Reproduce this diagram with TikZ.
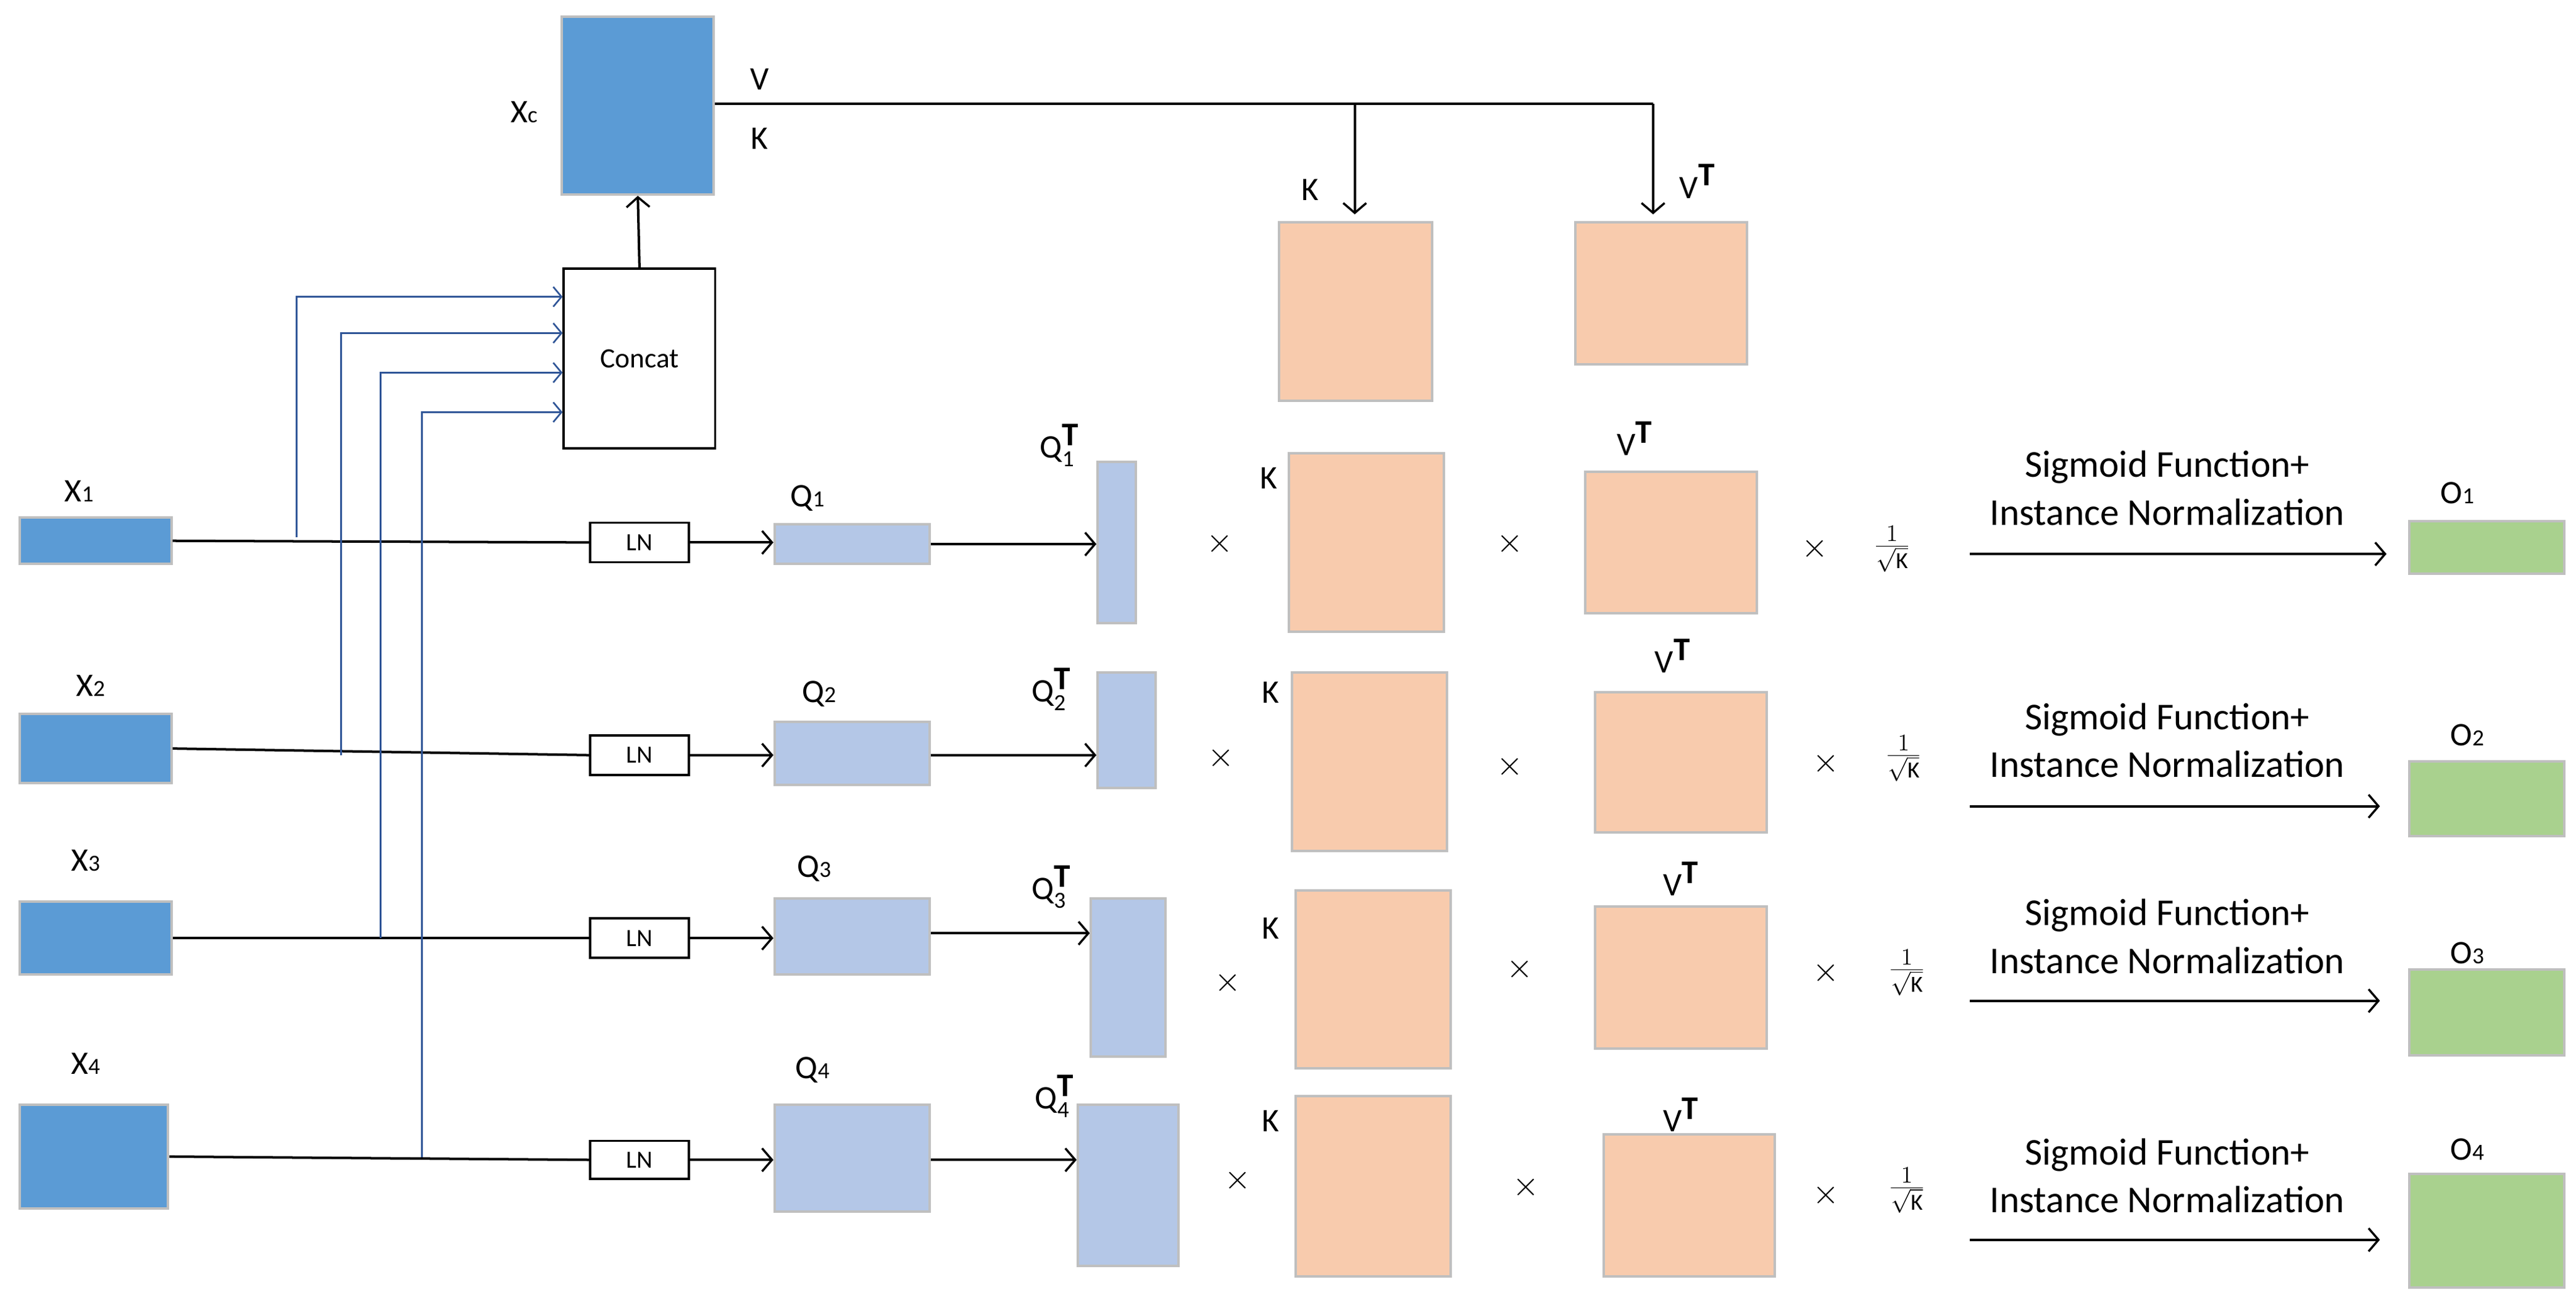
\documentclass[tikz,border=0pt]{standalone}
\usepackage{fontspec}
\setmainfont{Carlito}
\usetikzlibrary{arrows.meta}
\definecolor{xblue}{HTML}{5B9BD5}
\definecolor{qblue}{HTML}{B4C7E7}
\definecolor{peach}{HTML}{F8CBAD}
\definecolor{ogreen}{HTML}{A9D18E}
\definecolor{edge}{HTML}{BFBFBF}
\definecolor{lineblue}{HTML}{2F5597}
\newcommand{\bx}[6]{\node[#6,minimum width={(#4-#2)*1pt},minimum height={(#5-#3)*1pt}] (#1) at ({(#2+#4)/2},{(#3+#5)/2}) {};}
\begin{document}
\begin{tikzpicture}[x=1pt,y=-1pt,
  box/.style={draw=edge,line width=1.5pt,inner sep=0pt},
  X/.style={box,fill=xblue},
  Q/.style={box,fill=qblue},
  P/.style={box,fill=peach},
  G/.style={box,fill=ogreen},
  wb/.style={draw=black,line width=1.3pt,fill=white,inner sep=0pt},
  lab/.style={font=\fontsize{20}{24}\selectfont,inner sep=0pt},
  txt/.style={font=\fontsize{23}{29}\selectfont,align=center,inner sep=0pt},
  arr/.style={line width=1.5pt,-{Straight Barb[length=6pt,width=14pt,line width=1.3pt]}},
  ln/.style={line width=1.5pt},
  bl/.style={draw=lineblue,line width=1pt},
  bla/.style={bl,-{Straight Barb[length=5pt,width=12pt,line width=1pt]}}]
\useasboundingbox (0,0) rectangle (1563,795);
\newcommand{\sub}[1]{{\fontsize{14}{16}\selectfont #1}}
\newcommand{\qt}[1]{Q$^{\mbox{\textbf{T}}}_{\mbox{\sub{#1}}}$}
\newcommand{\vt}{V$^{\mbox{\textbf{T}}}$}
% top
\bx{xc}{341}{10}{433}{118}{X}
\node[lab] at (318,68) {X\sub{c}};
\node[lab] at (461,48) {V};
\node[lab] at (461,84) {K};
\bx{cc}{342}{163}{434}{272}{wb}
\node[font=\fontsize{17}{20}\selectfont] at (cc) {Concat};
\draw[arr] (cc.north) -- (xc.south);
\bx{kt}{776}{135}{869}{243}{P}
\bx{vt}{956}{135}{1060}{221}{P}
\coordinate (t1) at (822,63);
\coordinate (t2) at (1003,63);
\draw[ln] (xc.east |- t1) -- (t2);
\draw[arr] (t1) -- (822,130);
\draw[arr] (t2) -- (1003,130);
\node[lab] at (795,115) {K};
\node[lab] at (1030,110) {\vt};
% ---------- row 1
\bx{x1}{12}{314}{104}{342}{X} \node[lab] at (48,298) {X\sub{1}};
\bx{ln1}{358}{317}{418}{341}{wb} \node[font=\fontsize{15}{18}\selectfont] at (ln1) {LN};
\bx{q1}{470}{318}{564}{342}{Q} \node[lab] at (490,302) {Q\sub{1}};
\bx{qt1}{666}{280}{689}{378}{Q} \node[lab] at (643,270) {\qt{1}};
\bx{k1}{782}{275}{876}{383}{P} \node[lab] at (770,290) {K};
\bx{v1}{962}{286}{1066}{372}{P} \node[lab] at (992,266) {\vt};
\bx{o1}{1462}{316}{1556}{348}{G} \node[lab] at (1491,299) {O\sub{1}};
\node[lab] at (740,330) {$\times$}; \node[lab] at (916,330) {$\times$}; \node[lab] at (1101,333) {$\times$};
\node[lab] at (1148,333) {$\frac{1}{\sqrt{\mathrm{K}}}$};
\node[txt] at (1315,296) {Sigmoid Function+\\Instance Normalization};
\coordinate (a1) at (1195,336); \coordinate (b1) at (1448,336);
\draw[arr] (a1) -- (b1);
\draw[ln] (x1.east) -- (ln1.west);
\draw[arr] (ln1.east) -- (q1.west |- ln1.east);
\draw[arr] (q1.east) -- (qt1.west |- q1.east);
% ---------- row 2
\bx{x2}{12}{433}{104}{475}{X} \node[lab] at (55,416) {X\sub{2}};
\bx{ln2}{358}{446}{418}{470}{wb} \node[font=\fontsize{15}{18}\selectfont] at (ln2) {LN};
\bx{q2}{470}{438}{564}{476}{Q} \node[lab] at (497,421) {Q\sub{2}};
\bx{qt2}{666}{408}{701}{478}{Q} \node[lab] at (638,418) {\qt{2}};
\bx{k2}{784}{408}{878}{516}{P} \node[lab] at (771,420) {K};
\bx{v2}{968}{420}{1072}{505}{P} \node[lab] at (1015,398) {\vt};
\bx{o2}{1462}{462}{1556}{507}{G} \node[lab] at (1497,446) {O\sub{2}};
\node[lab] at (741,460) {$\times$}; \node[lab] at (916,465) {$\times$}; \node[lab] at (1108,463) {$\times$};
\node[lab] at (1155,460) {$\frac{1}{\sqrt{\mathrm{K}}}$};
\node[txt] at (1315,449) {Sigmoid Function+\\Instance Normalization};
\coordinate (a2) at (1195,489); \coordinate (b2) at (1444,489);
\draw[arr] (a2) -- (b2);
\draw[ln] (x2.east) -- (ln2.west);
\draw[arr] (ln2.east) -- (q2.west |- ln2.east);
\draw[arr] (q2.east |- ln2.east) -- (qt2.west |- ln2.east);
% ---------- row 3
\bx{x3}{12}{547}{104}{591}{X} \node[lab] at (52,522) {X\sub{3}};
\bx{ln3}{358}{557}{418}{581}{wb} \node[font=\fontsize{15}{18}\selectfont] at (ln3) {LN};
\bx{q3}{470}{545}{564}{591}{Q} \node[lab] at (494,527) {Q\sub{3}};
\bx{qt3}{662}{545}{707}{641}{Q} \node[lab] at (638,538) {\qt{3}};
\bx{k3}{786}{540}{880}{648}{P} \node[lab] at (771,563) {K};
\bx{v3}{968}{550}{1072}{636}{P} \node[lab] at (1020,533) {\vt};
\bx{o3}{1462}{588}{1556}{640}{G} \node[lab] at (1497,578) {O\sub{3}};
\node[lab] at (745,596) {$\times$}; \node[lab] at (922,588) {$\times$}; \node[lab] at (1108,590) {$\times$};
\node[lab] at (1157,590) {$\frac{1}{\sqrt{\mathrm{K}}}$};
\node[txt] at (1315,568) {Sigmoid Function+\\Instance Normalization};
\coordinate (a3) at (1195,607); \coordinate (b3) at (1444,607);
\draw[arr] (a3) -- (b3);
\draw[ln] (x3.east) -- (ln3.west);
\draw[arr] (ln3.east) -- (q3.west |- ln3.east);
\draw[arr] (q3.east |- 0,566) -- (qt3.west |- 0,566);
% ---------- row 4
\bx{x4}{12}{670}{102}{733}{X} \node[lab] at (52,645) {X\sub{4}};
\bx{ln4}{358}{692}{418}{715}{wb} \node[font=\fontsize{15}{18}\selectfont] at (ln4) {LN};
\bx{q4}{470}{670}{564}{735}{Q} \node[lab] at (493,649) {Q\sub{4}};
\bx{qt4}{654}{670}{715}{768}{Q} \node[lab] at (640,665) {\qt{4}};
\bx{k4}{786}{665}{880}{774}{P} \node[lab] at (771,680) {K};
\bx{v4}{973}{688}{1077}{774}{P} \node[lab] at (1020,676) {\vt};
\bx{o4}{1462}{712}{1556}{781}{G} \node[lab] at (1497,697) {O\sub{4}};
\node[lab] at (751,716) {$\times$}; \node[lab] at (926,720) {$\times$}; \node[lab] at (1108,725) {$\times$};
\node[lab] at (1157,722) {$\frac{1}{\sqrt{\mathrm{K}}}$};
\node[txt] at (1315,713) {Sigmoid Function+\\Instance Normalization};
\coordinate (a4) at (1195,752); \coordinate (b4) at (1444,752);
\draw[arr] (a4) -- (b4);
\draw[ln] (x4.east) -- (ln4.west);
\draw[arr] (ln4.east) -- (q4.west |- ln4.east);
\draw[arr] (q4.east |- ln4.east) -- (qt4.west |- ln4.east);
% ---------- blue feeds into concat
\coordinate (j1) at (180,326); \coordinate (j2) at (207,458);
\coordinate (j3) at (231,569); \coordinate (j4) at (256,702);
\draw[bla] (j1) |- (cc.west |- 0,180);
\draw[bla] (j2) |- (cc.west |- 0,202);
\draw[bla] (j3) |- (cc.west |- 0,226);
\draw[bla] (j4) |- (cc.west |- 0,250);
\end{tikzpicture}
\end{document}
